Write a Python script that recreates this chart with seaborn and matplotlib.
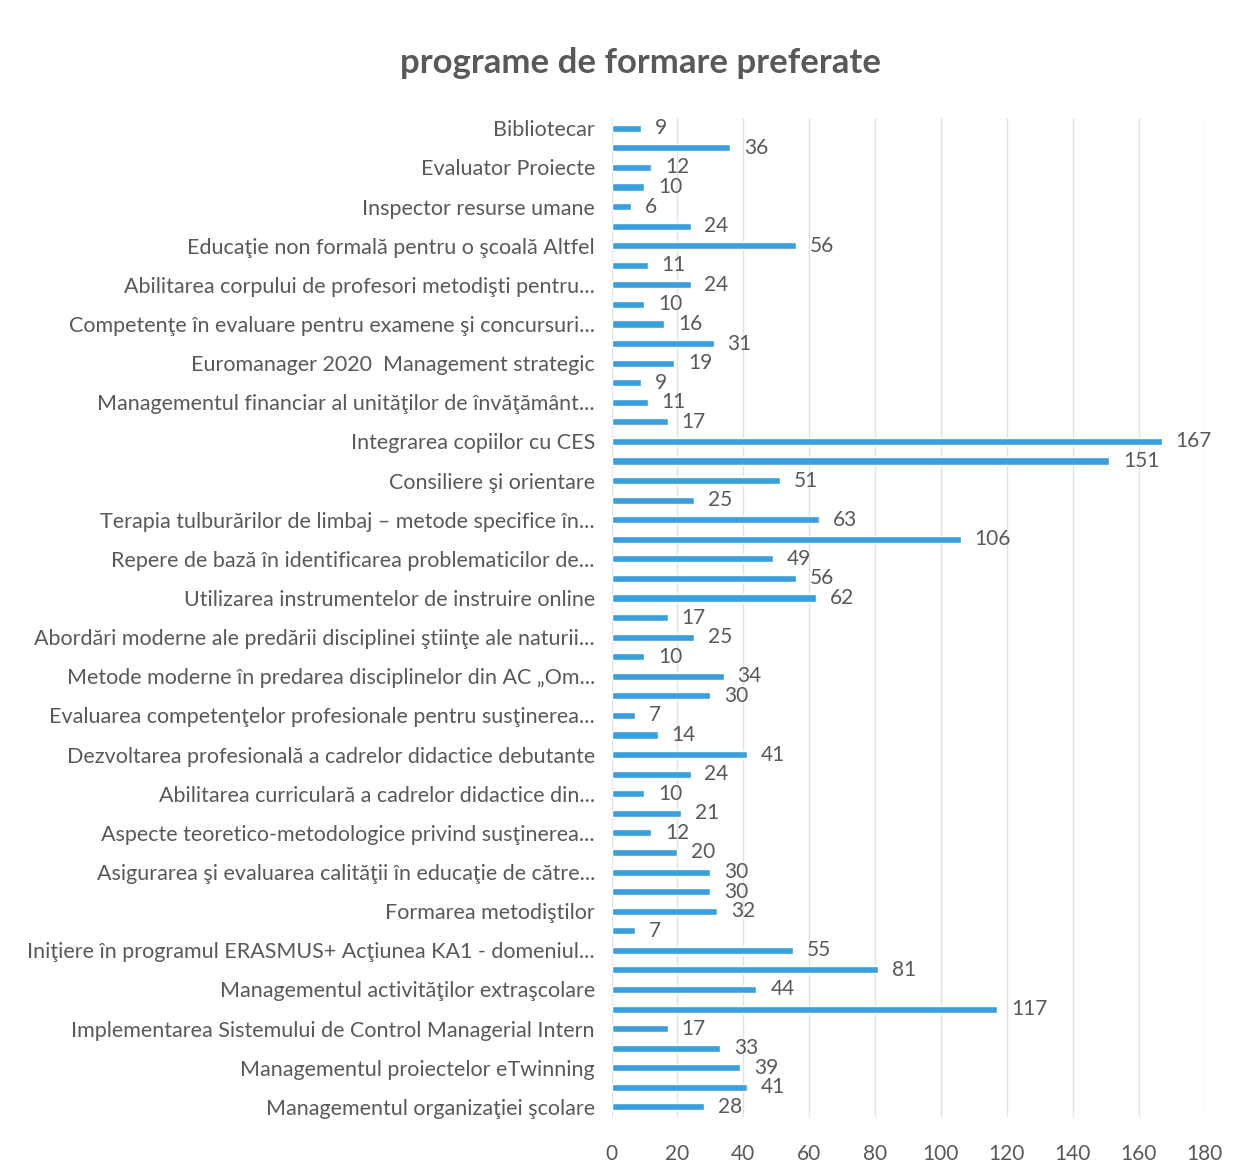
import matplotlib
matplotlib.use("Agg")
import matplotlib.pyplot as plt
import pandas as pd
import seaborn as sns

# Data (top to bottom); only every other bar carries a visible label
labels = [
    "Bibliotecar",
    "Evaluator Proiecte",
    "Inspector resurse umane",
    "Educaţie non formală pentru o şcoală Altfel",
    "Abilitarea corpului de profesori metodişti pentru...",
    "Competenţe în evaluare pentru examene şi concursuri...",
    "Euromanager 2020  Management strategic",
    "Managementul financiar al unităţilor de învăţământ...",
    "Integrarea copiilor cu CES",
    "Consiliere şi orientare",
    "Terapia tulburărilor de limbaj – metode specifice în...",
    "Repere de bază în identificarea problematicilor de...",
    "Utilizarea instrumentelor de instruire online",
    "Abordări moderne ale predării disciplinei ştiinţe ale naturii...",
    "Metode moderne în predarea disciplinelor din AC „Om...",
    "Evaluarea competenţelor profesionale pentru susţinerea...",
    "Dezvoltarea profesională a cadrelor didactice debutante",
    "Abilitarea curriculară a cadrelor didactice din...",
    "Aspecte teoretico-metodologice privind susţinerea...",
    "Asigurarea şi evaluarea calităţii în educaţie de către...",
    "Formarea metodiştilor",
    "Iniţiere în programul ERASMUS+ Acţiunea KA1 - domeniul...",
    "Managementul activităţilor extraşcolare",
    "Implementarea Sistemului de Control Managerial Intern",
    "Managementul proiectelor eTwinning",
    "Managementul organizaţiei şcolare",
]
values = [9, 36, 12, 10, 6, 24, 56, 11, 24, 10, 16, 31, 19, 9, 11, 17,
          167, 151, 51, 25, 63, 106, 49, 56, 62, 17, 25, 10, 34, 30, 7,
          14, 41, 24, 10, 21, 12, 20, 30, 30, 32, 7, 55, 81, 44, 117, 17,
          33, 39, 41, 28]
ticks = [0, 20, 40, 60, 80, 100, 120, 140, 160, 180]

df = pd.DataFrame({"pos": [str(i) for i in range(len(values))], "count": values})

sns.set_theme(style="white")
plt.rcParams["font.family"] = ["Lato", "DejaVu Sans"]

grey = "#595959"
fig = plt.figure(figsize=(12.43, 11.73), dpi=100)
ax = fig.add_axes([0.492, 0.048, 0.477, 0.851])

sns.barplot(data=df, x="count", y="pos", orient="h", color="#3A9FDD",
            saturation=1, width=0.36, ax=ax)

for c in ax.containers:
    ax.bar_label(c, padding=10, fontsize=15, color=grey)

ax.set_xlim(0, 180)
ax.set_xticks(ticks)
ax.set_xticklabels([str(t) for t in ticks], fontsize=15, color=grey)
ax.set_yticks(range(0, len(values), 2))
ax.set_yticklabels(labels, fontsize=15.5, color=grey)
ax.tick_params(axis="y", length=0, pad=12)
ax.tick_params(axis="x", length=0, pad=20)
ax.set_xlabel("")
ax.set_ylabel("")
ax.xaxis.grid(True, color="#E3E3E3", linewidth=1)
ax.set_axisbelow(True)
for s in ax.spines.values():
    s.set_visible(False)

fig.text(0.515, 0.946, "programe de formare preferate", ha="center",
         va="center", fontsize=25, fontweight="bold", color=grey)

fig.savefig("out.png", dpi=100)
